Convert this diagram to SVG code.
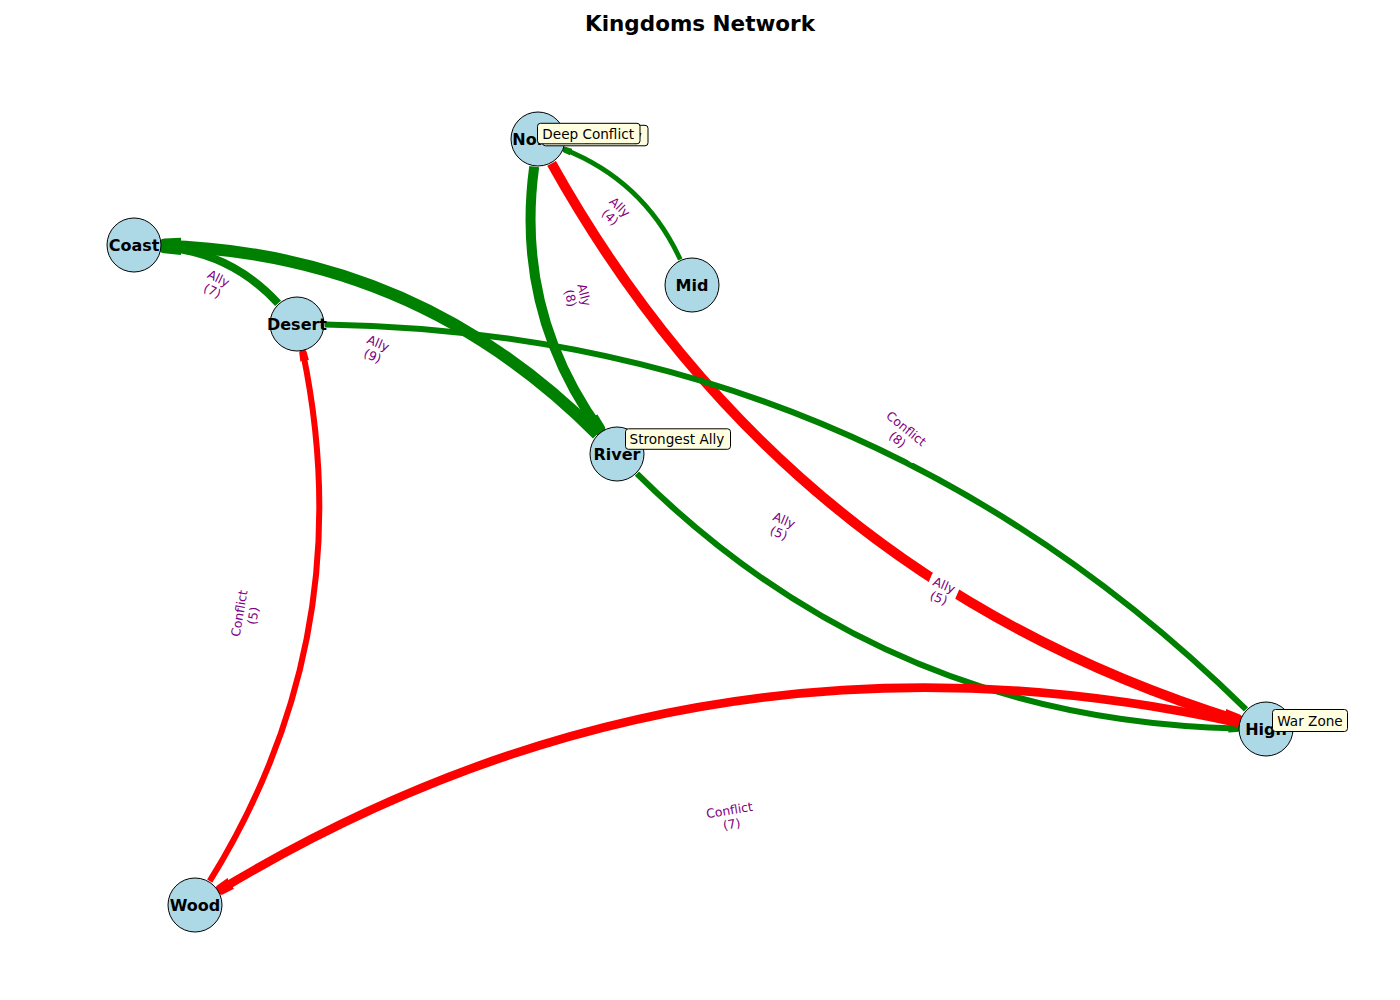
<svg xmlns="http://www.w3.org/2000/svg" width="1400" height="1000" viewBox="0 0 1400 1000">
<style>
.edge{fill:none;stroke-linecap:butt}
.ally{stroke:#008000}
.conf{stroke:#FF0000}
.node circle{fill:#ADD8E6;stroke:#000;stroke-width:1}
.node text{font-family:"DejaVu Sans",sans-serif;font-weight:bold;font-size:16px;text-anchor:middle;dominant-baseline:central;fill:#000}
.lbl rect{fill:#fff;stroke:#fff}
.lbl text{font-family:"DejaVu Sans",sans-serif;font-size:12.4px;fill:#800080;text-anchor:middle}
.ann rect{fill:#FFFFE0;stroke:#000;stroke-width:1}
.ann text{font-family:"DejaVu Sans",sans-serif;font-size:13.6px;fill:#000}
.title{font-family:"DejaVu Sans",sans-serif;font-weight:bold;font-size:21.5px;text-anchor:middle}
</style>
<defs>
<marker id="hg" viewBox="-1.6 -0.8 2 1.6" refX="0" refY="0" markerWidth="2" markerHeight="1.6" markerUnits="strokeWidth" orient="auto">
<path d="M-1.6,-0.72 L-0.2,-0.62 Q0.3,-0.58 0.3,0 Q0.3,0.58 -0.2,0.62 L-1.6,0.72 z" fill="#008000"/>
</marker>
<marker id="hr" viewBox="-1.6 -0.8 2 1.6" refX="0" refY="0" markerWidth="2" markerHeight="1.6" markerUnits="strokeWidth" orient="auto">
<path d="M-1.6,-0.72 L-0.2,-0.62 Q0.3,-0.58 0.3,0 Q0.3,0.58 -0.2,0.62 L-1.6,0.72 z" fill="#FF0000"/>
</marker>
</defs>
<rect width="1400" height="1000" fill="#fff"/>
<text class="title" x="700" y="31">Kingdoms Network</text>
<g id="edges">
<path class="edge ally" stroke-width="4.8" marker-end="url(#hg)" d="M680.3,259.6 Q644,181 564,149.3"/>
<path class="edge ally" stroke-width="10" marker-end="url(#hg)" d="M534.2,166.7 Q514.5,312 600.6,431.3"/>
<path class="edge conf" stroke-width="10" marker-end="url(#hr)" d="M551.6,163.4 Q784,580 1239.3,720.7"/>
<path class="edge ally" stroke-width="8" marker-end="url(#hg)" d="M278.1,303.4 Q231,252 161.9,247"/>
<path class="edge ally" stroke-width="12" marker-end="url(#hg)" d="M597.3,434.2 Q417,253 162,245.8"/>
<path class="edge ally" stroke-width="6" d="M1246,709.4 Q862.5,332.7 325,324.4"/>
<path class="edge conf" stroke-width="6" marker-end="url(#hr)" d="M209.7,881.2 Q362,635 302.7,351.4"/>
<path class="edge ally" stroke-width="6" marker-end="url(#hg)" d="M636.9,473.7 Q886.5,721 1238,728.4"/>
<path class="edge conf" stroke-width="8.6" marker-end="url(#hr)" d="M1238.7,723 Q695.3,602.8 219,890.5"/>
</g>
<g id="node-north" class="node"><circle cx="538" cy="139" r="27"/><text x="538" y="139">North</text></g>
<g id="node-coast" class="node"><circle cx="134" cy="245" r="27"/><text x="134" y="245">Coast</text></g>
<g id="node-desert" class="node"><circle cx="297" cy="324" r="27"/><text x="297" y="324">Desert</text></g>
<g id="node-mid" class="node"><circle cx="692" cy="285" r="27"/><text x="692" y="285">Mid</text></g>
<g id="node-river" class="node"><circle cx="617" cy="454" r="27"/><text x="617" y="454">River</text></g>
<g id="node-high" class="node"><circle cx="1266" cy="729" r="27"/><text x="1266" y="729">High</text></g>
<g id="node-wood" class="node"><circle cx="195" cy="905" r="27"/><text x="195" y="905">Wood</text></g>
<g id="edge-labels">
<g class="lbl" transform="translate(615,212) rotate(43.5)"><rect x="-15" y="-16" width="30" height="32" rx="4"/><text><tspan x="0" y="-2.5">Ally</tspan><tspan x="0" y="11.5">(4)</tspan></text></g>
<g class="lbl" transform="translate(577.5,296.5) rotate(75.9)"><rect x="-15" y="-16" width="30" height="32" rx="4"/><text><tspan x="0" y="-2.5">Ally</tspan><tspan x="0" y="11.5">(8)</tspan></text></g>
<g class="lbl" transform="translate(902,434) rotate(39)"><rect x="-28" y="-16" width="56" height="32" rx="4"/><text><tspan x="0" y="-2.5">Conflict</tspan><tspan x="0" y="11.5">(8)</tspan></text></g>
<g class="lbl" transform="translate(215.5,284.5) rotate(25.9)"><rect x="-15" y="-16" width="30" height="32" rx="4"/><text><tspan x="0" y="-2.5">Ally</tspan><tspan x="0" y="11.5">(7)</tspan></text></g>
<g class="lbl" transform="translate(375.5,349.5) rotate(23.4)"><rect x="-15" y="-16" width="30" height="32" rx="4"/><text><tspan x="0" y="-2.5">Ally</tspan><tspan x="0" y="11.5">(9)</tspan></text></g>
<g class="lbl" transform="translate(781.5,526.5) rotate(22.7)"><rect x="-15" y="-16" width="30" height="32" rx="4"/><text><tspan x="0" y="-2.5">Ally</tspan><tspan x="0" y="11.5">(5)</tspan></text></g>
<g class="lbl" transform="translate(246,614.5) rotate(-80)"><rect x="-28" y="-16" width="56" height="32" rx="4"/><text><tspan x="0" y="-2.5">Conflict</tspan><tspan x="0" y="11.5">(5)</tspan></text></g>
<g class="lbl" transform="translate(941.5,591.5) rotate(23)"><rect x="-15" y="-16" width="30" height="32" rx="4"/><text><tspan x="0" y="-2.5">Ally</tspan><tspan x="0" y="11.5">(5)</tspan></text></g>
<g class="lbl" transform="translate(730.5,817) rotate(-9.3)"><rect x="-28" y="-16" width="56" height="32" rx="4"/><text><tspan x="0" y="-2.5">Conflict</tspan><tspan x="0" y="11.5">(7)</tspan></text></g>
</g>
<g id="annotations">
<g class="ann"><rect x="542.5" y="125.3" width="105.5" height="20.5" rx="3"/><text x="547" y="140.5">Strongest Ally</text></g>
<g class="ann"><rect x="537.5" y="123.3" width="102.5" height="20.5" rx="3"/><text x="542.3" y="138.5">Deep Conflict</text></g>
<g class="ann"><rect x="625.5" y="428.8" width="105" height="20.5" rx="3"/><text x="629.5" y="444">Strongest Ally</text></g>
<g class="ann"><rect x="1272.5" y="709.5" width="75" height="22" rx="3"/><text x="1277.3" y="725.5">War Zone</text></g>
</g>
</svg>
